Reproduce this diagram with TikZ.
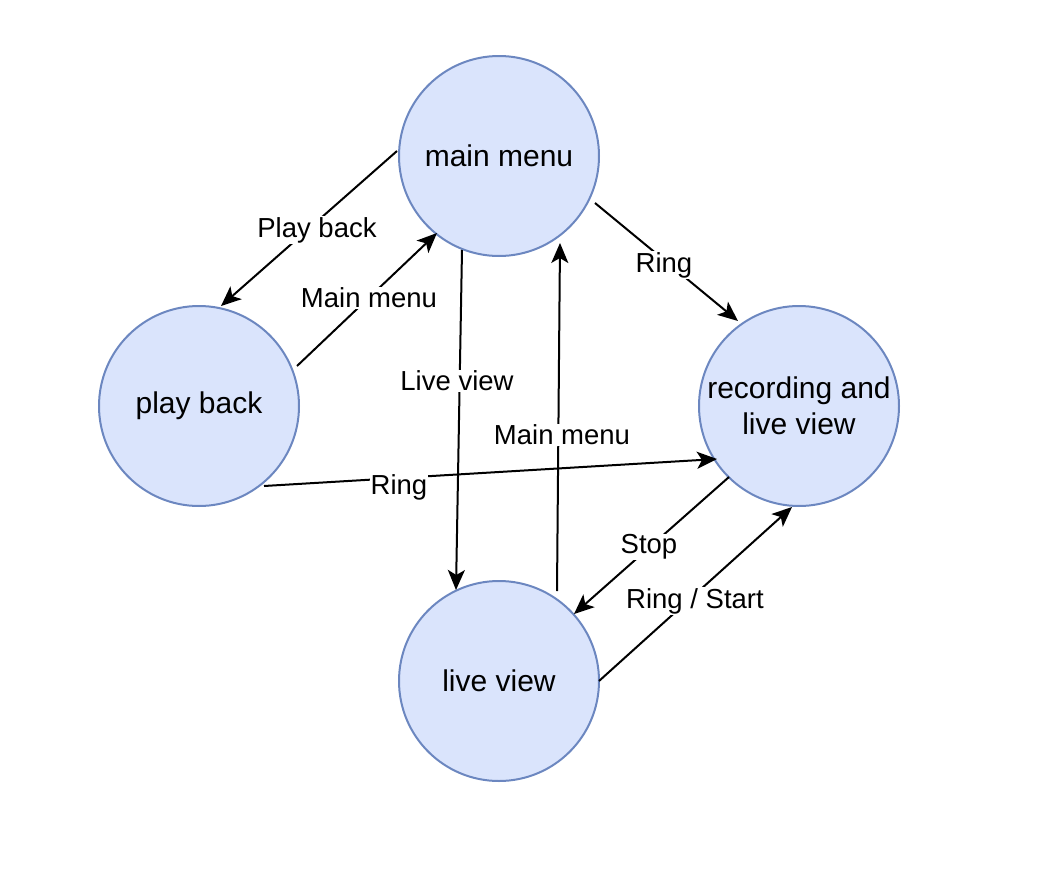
\documentclass[tikz,border=0pt]{standalone}
\usepackage{fontspec}
\setmainfont{Liberation Sans}
\usetikzlibrary{arrows.meta,calc}
\definecolor{stfill}{HTML}{DAE4FC}
\definecolor{stdraw}{HTML}{6C87C0}
\begin{document}
\begin{tikzpicture}[x=1pt,y=-1pt,
  state/.style={circle,draw=stdraw,fill=stfill,line width=2pt,minimum size=200pt,inner sep=0pt,align=center,font=\fontsize{30}{36}\selectfont},
  trans/.style={line width=2pt,-{Stealth[length=20pt,width=17pt,inset=5pt]}},
  lbl/.style={fill=white,inner sep=1pt,font=\fontsize{27.5}{32}\selectfont}]
\useasboundingbox (0,0) rectangle (1037,870);
\node[state] (mm) at (499,156) {main menu};
\node[state] (pb) at (199,406) {play back};
\node[state] (rec) at (799,406) {recording and\\live view};
\node[state] (lv) at (499,681) {live view};

\draw[trans] ($(mm)+(-102,-5)$) -- ($(pb)+(22,-100)$);
\draw[trans] ($(pb)+(98,-40)$) -- ($(mm)+(-62,77)$);
\draw[trans] ($(mm)+(96,47)$) -- ($(rec)+(-61,-85)$);
\draw[trans] ($(mm)+(-37,94)$) -- ($(lv)+(-43,-91)$);
\draw[trans] ($(lv)+(58,-90)$) -- ($(mm)+(61,87)$);
\draw[trans] ($(pb)+(65,80)$) -- ($(rec)+(-82,53)$);
\draw[trans] ($(rec)+(-70,71)$) -- ($(lv)+(75,-67)$);
\draw[trans] ($(lv)+(100,0)$) -- ($(rec)+(-7,101)$);

\node[lbl] (l1) at (317,230) {Play back};
\node[lbl] (l2) at (369,298) {Main menu};
\node[lbl] (l3) at (664,265) {Ring};
\node[lbl] (l4) at (457,381) {Live view};
\node[lbl] (l5) at (562,435) {Main menu};
\node[lbl] (l6) at (399,487) {Ring};
\node[lbl] (l7) at (649,547) {Stop};
\node[lbl] (l8) at (695,601) {Ring / Start};
\end{tikzpicture}
\end{document}
